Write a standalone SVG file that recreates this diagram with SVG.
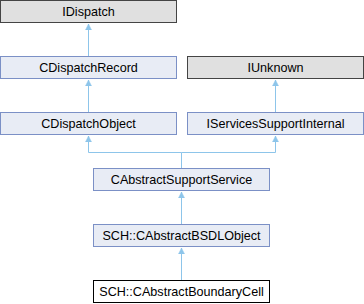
<svg xmlns="http://www.w3.org/2000/svg" width="364" height="304" viewBox="0 0 364 304">
<defs>
<style>
.n rect{fill:#e8ecf5;stroke:#7b90c6;stroke-width:1}
.g rect{fill:#e0e0e0;stroke:#444444;stroke-width:1}
.w rect{fill:#ffffff;stroke:#000000;stroke-width:1}
text{font-family:"Liberation Sans",Arial,sans-serif;font-size:12.6px;fill:#000000;text-anchor:middle}
.e{fill:none;stroke:#8dc5ea;stroke-width:1}
</style>
<marker id="ah" markerWidth="8" markerHeight="8" refX="6" refY="3.5" orient="auto" markerUnits="userSpaceOnUse"><path d="M0,0.5 L6,3.5 L0,6.5 Z" fill="#8dc5ea" stroke="#8dc5ea" stroke-width="0.5"/></marker>
</defs>
<g id="connectors">
<path class="e" d="M88.5,56.5 V24" marker-end="url(#ah)"/>
<path class="e" d="M88.5,112.5 V80" marker-end="url(#ah)"/>
<path class="e" d="M275.5,112.5 V80" marker-end="url(#ah)"/>
<path class="e" d="M181.5,168.5 V152.5 H88.5 V136" marker-end="url(#ah)"/>
<path class="e" d="M181.5,152.5 H275.5 V136" marker-end="url(#ah)"/>
<path class="e" d="M181.5,224.5 V192" marker-end="url(#ah)"/>
<path class="e" d="M181.5,280.5 V248" marker-end="url(#ah)"/>
</g>
<g id="IDispatch" class="g"><rect x="0.5" y="0.5" width="176" height="22"/><text x="88.5" y="16">IDispatch</text></g>
<g id="CDispatchRecord" class="n"><rect x="0.5" y="56.5" width="176" height="22"/><text x="88.5" y="72">CDispatchRecord</text></g>
<g id="IUnknown" class="g"><rect x="187.5" y="56.5" width="176" height="22"/><text x="275.5" y="72">IUnknown</text></g>
<g id="CDispatchObject" class="n"><rect x="0.5" y="112.5" width="176" height="22"/><text x="88.5" y="128">CDispatchObject</text></g>
<g id="IServicesSupportInternal" class="n"><rect x="187.5" y="112.5" width="176" height="22"/><text x="275.5" y="128">IServicesSupportInternal</text></g>
<g id="CAbstractSupportService" class="n"><rect x="93.5" y="168.5" width="176" height="22"/><text x="181.5" y="184">CAbstractSupportService</text></g>
<g id="CAbstractBSDLObject" class="n"><rect x="93.5" y="224.5" width="176" height="22"/><text x="181.5" y="240">SCH::CAbstractBSDLObject</text></g>
<g id="CAbstractBoundaryCell" class="w"><rect x="93.5" y="280.5" width="176" height="22"/><text x="181.5" y="296">SCH::CAbstractBoundaryCell</text></g>
</svg>
